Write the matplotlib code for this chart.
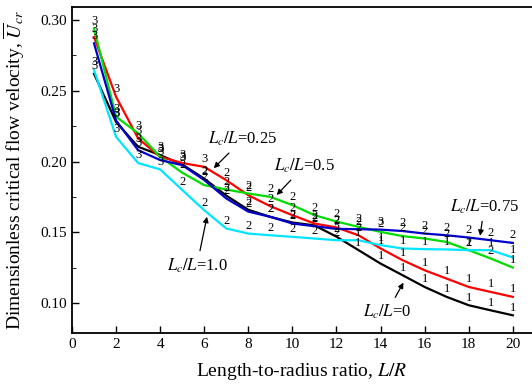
import matplotlib
matplotlib.use('Agg')
import matplotlib.pyplot as plt

plt.rcParams['font.family'] = ['Liberation Serif', 'DejaVu Serif']
plt.rcParams['mathtext.fontset'] = 'stix'

# L/R values
ratio = list(range(1, 21))

# dimensionless critical flow velocity for each Lc/L
u_0 = [0.262, 0.228, 0.2105, 0.2046, 0.198, 0.188, 0.176, 0.166, 0.161, 0.157,
       0.155, 0.147, 0.1375, 0.128, 0.1198, 0.1115, 0.1045, 0.0986, 0.095, 0.0915]
u_025 = [0.288, 0.2458, 0.2164, 0.2034, 0.199, 0.1963, 0.1869, 0.1763, 0.1685, 0.1622,
         0.1563, 0.1535, 0.148, 0.1387, 0.1304, 0.1233, 0.1174, 0.1115, 0.108, 0.1045]
u_05 = [0.2941, 0.2317, 0.220, 0.2034, 0.1922, 0.1834, 0.1803, 0.1775, 0.1751, 0.1693,
        0.1622, 0.1577, 0.1539, 0.1504, 0.1474, 0.1457, 0.1433, 0.1375, 0.1316, 0.1252]
u_075 = [0.2835, 0.229, 0.2081, 0.2011, 0.1975, 0.187, 0.174, 0.1647, 0.161, 0.1563,
         0.1544, 0.1525, 0.1523, 0.152, 0.151, 0.1492, 0.148, 0.1464, 0.1445, 0.1426]
u_10 = [0.2647, 0.2175, 0.199, 0.1945, 0.180, 0.1657, 0.1528, 0.1492, 0.148, 0.1469,
        0.1457, 0.1445, 0.1445, 0.141, 0.1387, 0.1382, 0.138, 0.1375, 0.1375, 0.1323]

# mode numbers written next to each point
m_0 = [3, 3, 3, 3, 3, 2, 2, 2, 2, 2, 2, 2, 1, 1, 1, 1, 1, 1, 1, 1]
m_025 = [3, 3, 3, 3, 3, 3, 2, 2, 2, 2, 2, 2, 2, 1, 1, 1, 1, 1, 1, 1]
m_05 = [3, 3, 3, 3, 2, 2, 2, 2, 2, 2, 2, 2, 2, 2, 2, 2, 2, 2, 2, 1]
m_075 = [3, 3, 3, 3, 3, 2, 2, 2, 2, 2, 2, 2, 2, 3, 2, 2, 2, 2, 2, 2]
m_10 = [3, 3, 3, 3, 2, 2, 2, 2, 2, 2, 2, 2, 1, 1, 1, 1, 1, 1, 1, 1]

series = [
    (u_0, m_0, 'black'),
    (u_025, m_025, '#ff0000'),
    (u_05, m_05, '#00dd00'),
    (u_075, m_075, '#0000cc'),
    (u_10, m_10, '#00e5ff'),
]

fig = plt.figure(figsize=(5.32, 3.91), dpi=100)
ax = fig.add_axes([0.1353, 0.1483, 0.8647, 0.8347])

for vals, modes, col in series:
    ax.plot(ratio, vals, color=col, lw=1.6)
for vals, modes, col in series:
    for x, v, m in zip(ratio, vals, modes):
        ax.annotate(str(m), (x, v), xytext=(0, 5.5), textcoords='offset points',
                    ha='center', va='center', fontsize=9)

ax.set_xlim(0, 20.87)
ax.set_ylim(0.079, 0.3094)
ax.set_xticks(range(0, 21, 2))
ax.set_yticks([0.10, 0.15, 0.20, 0.25, 0.30])
ax.set_yticks([0.125, 0.175, 0.225, 0.275], minor=True)
ax.yaxis.set_major_formatter(matplotlib.ticker.FormatStrFormatter('%.2f'))
ax.tick_params(direction='in', labelsize=11, width=1, length=5)
ax.tick_params(which='minor', direction='in', length=3)
ax.spines['right'].set_visible(False)
for s in ['left', 'bottom', 'top']:
    ax.spines[s].set_linewidth(1.3)

ax.set_xlabel(r'Length-to-radius ratio, $\it{L}/\it{R}$', fontsize=14, labelpad=7)
ax.set_ylabel(r'Dimensionless critical flow velocity, $\overline{U}_{cr}$',
              fontsize=14, labelpad=10)

arrow = dict(arrowstyle='-|>', color='black', lw=0.9, mutation_scale=8)
ax.annotate(r'$L_c/L$=0.25', xy=(6.34, 0.194), xytext=(7.76, 0.2159),
            fontsize=12, ha='center', va='center', arrowprops=arrow)
ax.annotate(r'$L_c/L$=0.5', xy=(9.2, 0.175), xytext=(10.53, 0.1968),
            fontsize=12, ha='center', va='center', arrowprops=arrow)
ax.annotate(r'$L_c/L$=0.75', xy=(18.5, 0.1457), xytext=(18.7, 0.1682),
            fontsize=12, ha='center', va='center', arrowprops=arrow)
ax.annotate(r'$L_c/L$=0', xy=(15.1, 0.1163), xytext=(14.3, 0.094),
            fontsize=12, ha='center', va='center', arrowprops=arrow)
ax.annotate(r'$L_c/L$=1.0', xy=(6.15, 0.163), xytext=(5.67, 0.1268),
            fontsize=12, ha='center', va='center', arrowprops=arrow)

fig.savefig('out.png', dpi=100)
